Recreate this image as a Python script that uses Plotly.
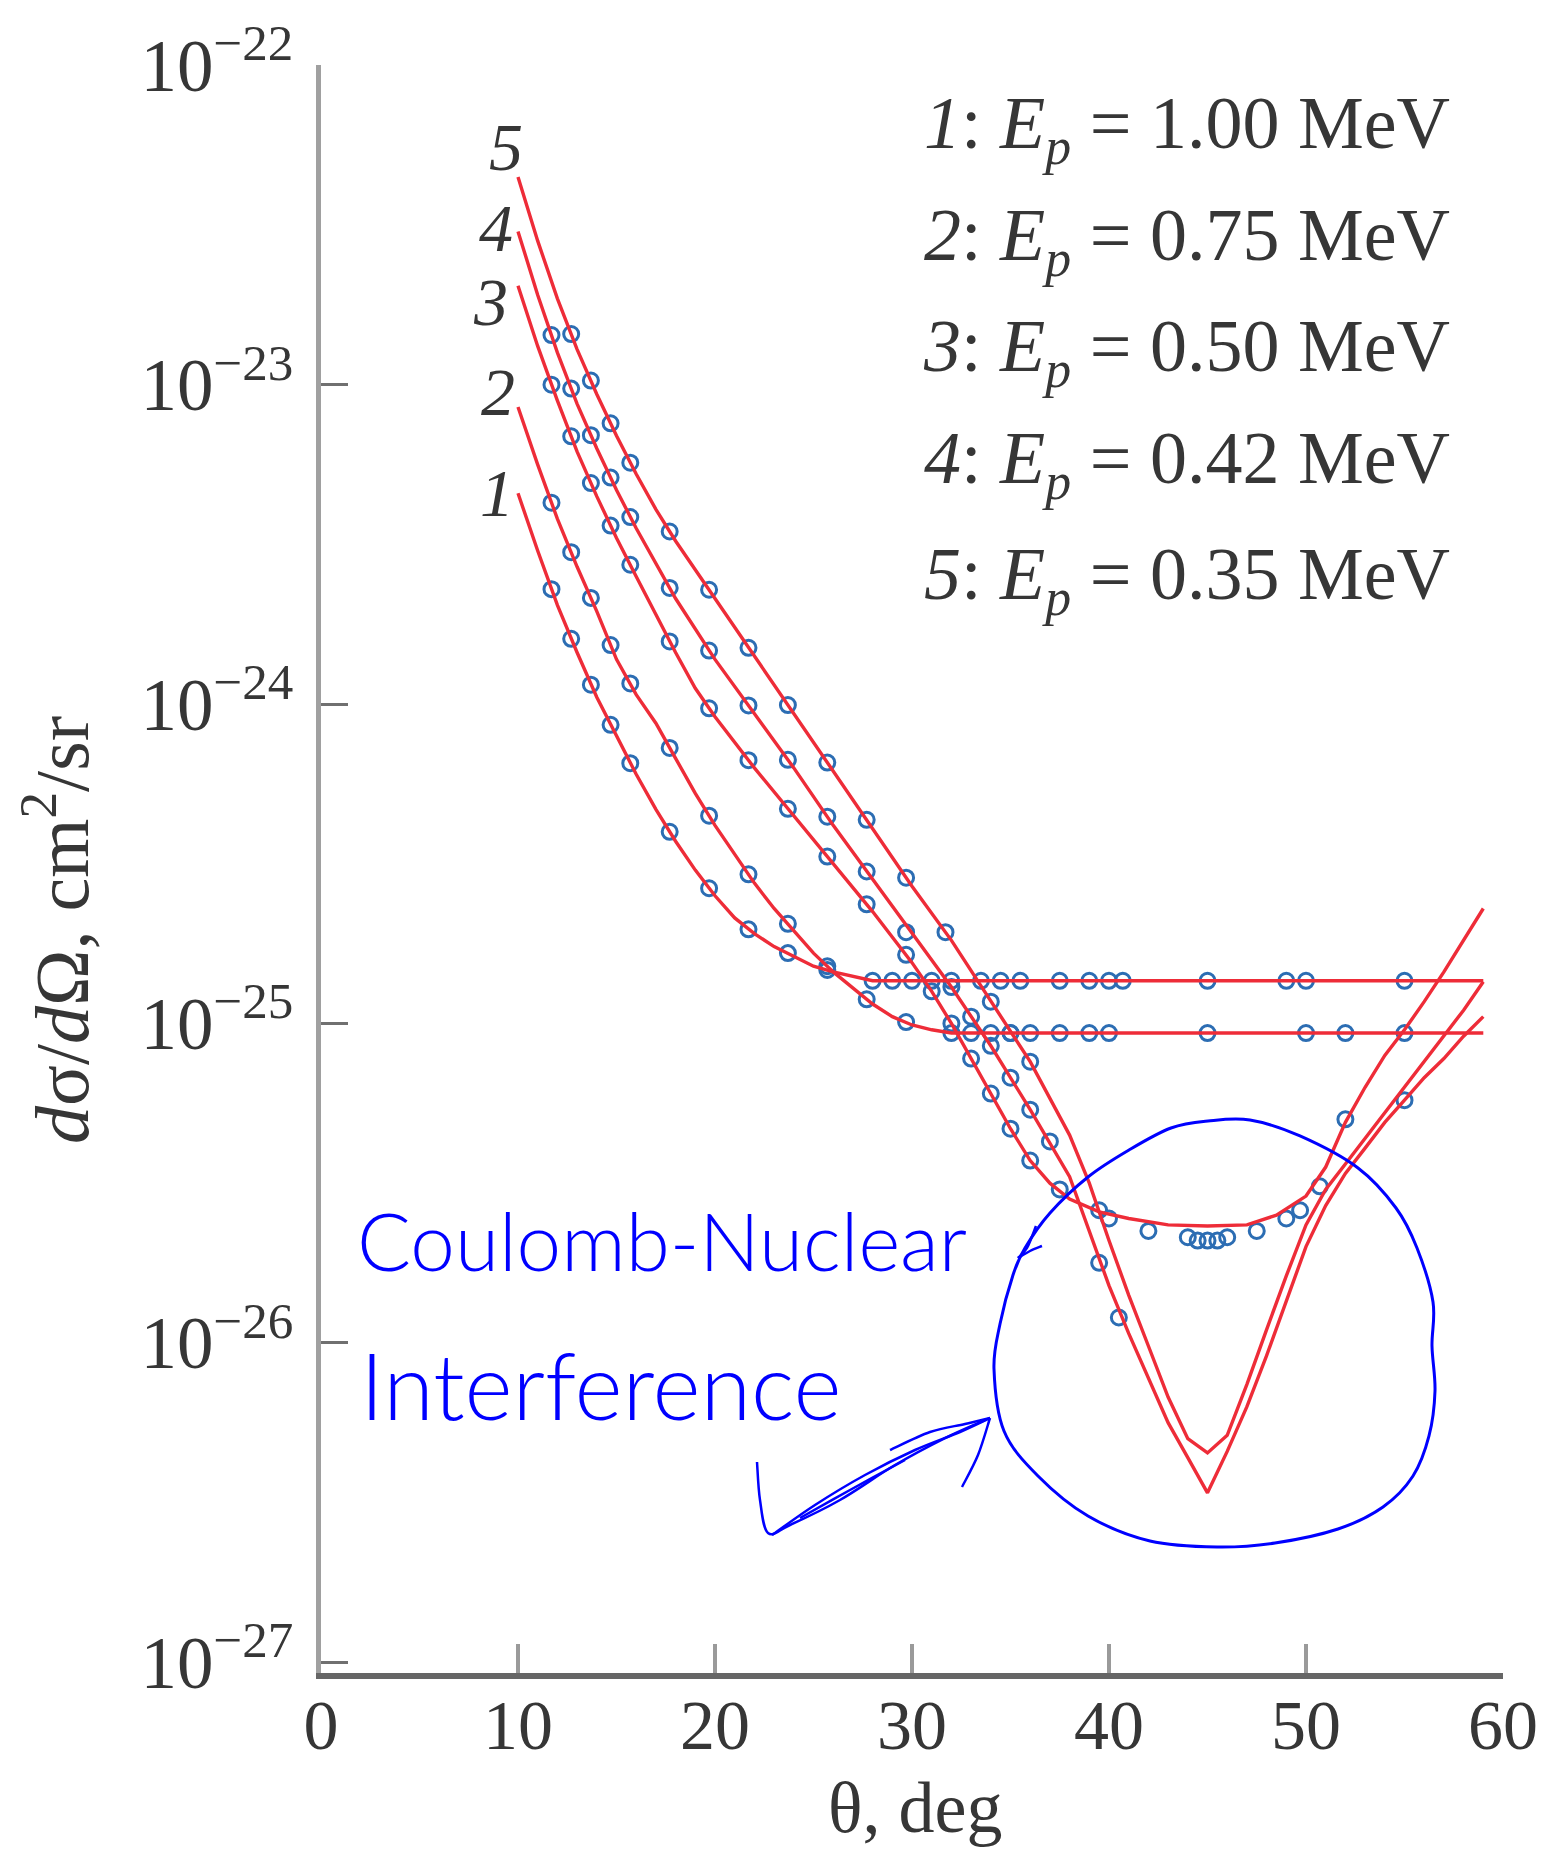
import plotly.graph_objects as go

# ---------------- data ----------------
energies = ["1.00", "0.75", "0.50", "0.42", "0.35"]
curve_ids = ["1", "2", "3", "4", "5"]
x_ticks = [0, 10, 20, 30, 40, 50, 60]
y_tick_exponents = [-22, -23, -24, -25, -26, -27]

# calculated curves (red lines): theta in deg, dsigma/dOmega in cm^2/sr
theta_fit_1 = [10, 11, 12, 13, 14, 15, 16, 17, 18, 19, 20, 21, 22, 23, 24, 25, 26, 27, 28, 59]
sigma_fit_1 = [4.57e-24, 3.02e-24, 2.04e-24, 1.45e-24, 1.05e-24, 7.94e-25, 6.03e-25, 4.68e-25,
               3.72e-25, 3.02e-25, 2.51e-25, 2.14e-25, 1.91e-25, 1.74e-25, 1.62e-25, 1.51e-25,
               1.45e-25, 1.40e-25, 1.36e-25, 1.36e-25]

theta_fit_2 = [10, 11, 12, 13, 14, 15, 16, 17, 18, 19, 20, 21, 22, 23, 24, 25, 26, 27, 28, 29,
               30, 31, 32, 59]
sigma_fit_2 = [8.51e-24, 5.62e-24, 3.80e-24, 2.69e-24, 1.95e-24, 1.38e-24, 1.07e-24, 8.71e-25,
               6.76e-25, 5.25e-25, 4.17e-25, 3.39e-25, 2.75e-25, 2.29e-25, 1.95e-25, 1.66e-25,
               1.45e-25, 1.29e-25, 1.15e-25, 1.05e-25, 9.89e-26, 9.55e-26, 9.33e-26, 9.33e-26]

theta_fit_3 = [10, 11, 12, 13, 14, 15, 16, 17, 18, 19, 20, 22, 24, 26, 28, 30, 31, 32, 33, 34,
               35, 36, 37, 38, 39.5, 41, 43, 45, 47, 48.5, 50, 51, 52, 53, 54, 55, 56, 57, 58, 59]
sigma_fit_3 = [2.04e-23, 1.32e-23, 8.91e-24, 6.17e-24, 4.47e-24, 3.31e-24, 2.51e-24, 1.91e-24,
               1.45e-24, 1.12e-24, 9.12e-25, 6.31e-25, 4.47e-25, 3.16e-25, 2.24e-25, 1.55e-25,
               1.26e-25, 1.00e-25, 7.76e-26, 6.03e-26, 4.68e-26, 3.72e-26, 3.16e-26, 2.82e-26,
               2.57e-26, 2.45e-26, 2.34e-26, 2.32e-26, 2.34e-26, 2.51e-26, 2.88e-26, 3.55e-26,
               4.90e-26, 6.31e-26, 7.94e-26, 9.55e-26, 1.17e-25, 1.45e-25, 1.82e-25, 2.29e-25]

theta_fit_4 = [10, 11, 12, 13, 14, 15, 16, 17, 18, 20, 22, 24, 26, 28, 30, 32, 34, 36, 38, 39,
               40, 41, 42, 43, 44, 45, 46, 47, 48, 49, 50, 51, 52, 53, 54, 55, 56, 57, 58, 59]
sigma_fit_4 = [3.02e-23, 1.91e-23, 1.26e-23, 8.71e-24, 6.31e-24, 4.68e-24, 3.55e-24, 2.75e-24,
               2.14e-24, 1.38e-24, 9.33e-25, 6.31e-25, 4.17e-25, 2.82e-25, 1.91e-25, 1.30e-25,
               8.51e-26, 5.37e-26, 3.31e-26, 2.24e-26, 1.51e-26, 1.07e-26, 7.76e-27, 5.62e-27,
               4.37e-27, 3.39e-27, 4.57e-27, 6.31e-27, 9.12e-27, 1.35e-26, 2.00e-26, 2.69e-26,
               3.39e-26, 4.07e-26, 4.90e-26, 5.75e-26, 6.76e-26, 7.76e-26, 9.12e-26, 1.05e-25]

theta_fit_5 = [10, 11, 12, 13, 14, 15, 16, 17, 18, 20, 22, 24, 26, 28, 30, 32, 34, 36, 38, 39,
               40, 41, 42, 43, 44, 45, 46, 47, 48, 49, 50, 51, 52, 53, 54, 55, 56, 57, 58, 59]
sigma_fit_5 = [4.47e-23, 2.82e-23, 1.86e-23, 1.29e-23, 9.33e-24, 6.92e-24, 5.25e-24, 4.07e-24,
               3.24e-24, 2.14e-24, 1.41e-24, 9.33e-25, 6.17e-25, 4.07e-25, 2.69e-25, 1.82e-25,
               1.17e-25, 7.59e-26, 4.47e-26, 3.16e-26, 2.09e-26, 1.41e-26, 9.77e-27, 6.76e-27,
               5.01e-27, 4.52e-27, 5.13e-27, 7.41e-27, 1.10e-26, 1.62e-26, 2.34e-26, 3.02e-26,
               3.63e-26, 4.37e-26, 5.25e-26, 6.31e-26, 7.59e-26, 9.12e-26, 1.10e-25, 1.35e-25]

# measured points (blue circles)
theta_exp_1 = [11.7, 12.7, 13.7, 14.7, 15.7, 17.7, 19.7, 21.7, 23.7, 25.7, 28, 29, 30, 31, 32,
               33.5, 34.5, 35.5, 37.5, 39, 40, 40.7, 45, 49, 50, 55]
sigma_exp_1 = [2.29e-24, 1.60e-24, 1.15e-24, 8.61e-25, 6.53e-25, 3.98e-25, 2.65e-25, 1.97e-25,
               1.66e-25, 1.47e-25, 1.36e-25, 1.36e-25, 1.36e-25, 1.36e-25, 1.36e-25, 1.36e-25,
               1.36e-25, 1.36e-25, 1.36e-25, 1.36e-25, 1.36e-25, 1.36e-25, 1.36e-25, 1.36e-25,
               1.36e-25, 1.36e-25]

theta_exp_2 = [11.7, 12.7, 13.7, 14.7, 15.7, 17.7, 19.7, 21.7, 23.7, 25.7, 27.7, 29.7, 32, 33,
               34, 35, 36, 37.5, 39, 40, 45, 50, 52, 55]
sigma_exp_2 = [4.27e-24, 2.99e-24, 2.15e-24, 1.53e-24, 1.16e-24, 7.29e-25, 4.47e-25, 2.93e-25,
               2.05e-25, 1.51e-25, 1.19e-25, 1.01e-25, 9.33e-26, 9.33e-26, 9.33e-26, 9.33e-26,
               9.33e-26, 9.33e-26, 9.33e-26, 9.33e-26, 9.33e-26, 9.33e-26, 9.33e-26, 9.33e-26]

theta_exp_3 = [11.7, 12.7, 13.7, 14.7, 15.7, 17.7, 19.7, 21.7, 23.7, 25.7, 27.7, 29.7, 31, 32,
               33, 34, 35, 36, 37.5, 39.5, 40, 42, 44, 44.5, 45, 45.5, 46, 47.5, 49, 49.7, 50.7, 52]
sigma_exp_3 = [1.00e-23, 6.89e-24, 4.92e-24, 3.62e-24, 2.73e-24, 1.57e-24, 9.70e-25, 6.67e-25,
               4.70e-25, 3.33e-25, 2.36e-25, 1.64e-25, 1.26e-25, 1.00e-25, 7.76e-26, 6.03e-26,
               4.68e-26, 3.72e-26, 3.02e-26, 2.60e-26, 2.45e-26, 2.24e-26, 2.14e-26, 2.09e-26,
               2.09e-26, 2.09e-26, 2.14e-26, 2.24e-26, 2.45e-26, 2.60e-26, 3.09e-26, 5.01e-26]

theta_exp_4 = [11.7, 12.7, 13.7, 14.7, 15.7, 17.7, 19.7, 21.7, 23.7, 25.7, 27.7, 29.7, 32, 33,
               34, 35, 36, 37, 39.5, 40.5, 55]
sigma_exp_4 = [1.43e-23, 9.72e-24, 6.95e-24, 5.12e-24, 3.85e-24, 2.31e-24, 1.47e-24, 9.90e-25,
               6.69e-25, 4.44e-25, 2.99e-25, 1.93e-25, 1.30e-25, 1.05e-25, 8.51e-26, 6.76e-26,
               5.37e-26, 4.27e-26, 1.78e-26, 1.20e-26, 5.75e-26]

theta_exp_5 = [12.7, 13.7, 14.7, 15.7, 17.7, 19.7, 21.7, 23.7, 25.7, 27.7, 29.7, 31.7, 34, 35, 36]
sigma_exp_5 = [1.44e-23, 1.03e-23, 7.57e-24, 5.70e-24, 3.47e-24, 2.28e-24, 1.50e-24, 9.93e-25,
               6.56e-25, 4.34e-25, 2.86e-25, 1.93e-25, 1.17e-25, 9.33e-26, 7.59e-26]

fit_sets = [(theta_fit_1, sigma_fit_1), (theta_fit_2, sigma_fit_2), (theta_fit_3, sigma_fit_3),
            (theta_fit_4, sigma_fit_4), (theta_fit_5, sigma_fit_5)]
exp_sets = [(theta_exp_1, sigma_exp_1), (theta_exp_2, sigma_exp_2), (theta_exp_3, sigma_exp_3),
            (theta_exp_4, sigma_exp_4), (theta_exp_5, sigma_exp_5)]

# ---------------- layout geometry ----------------
# page is 1545x1851; the browser puts the plot 8px in from the top-left corner
OFF = 8
PAGE_W, PAGE_H = 1545, 1851
W, H = PAGE_W - OFF, PAGE_H - OFF
PLOT_L, PLOT_R, PLOT_T, PLOT_B = 321, 1503, 65, 1673      # page pixels of the plot area
ML, MR, MT, MB = PLOT_L - OFF, W - (PLOT_R - OFF), PLOT_T - OFF, H - (PLOT_B - OFF)
PW, PH = PLOT_R - PLOT_L, PLOT_B - PLOT_T


def pxx(x):
    return (x - PLOT_L) / PW


def pxy(y):
    return (PLOT_B - y) / PH


SERIF = "Liberation Serif, Times New Roman, serif"
TXT = "#363636"
MARK = "#2c6db3"
RED = "#ee2c38"
BLUE = "#0000ff"

fig = go.Figure()
for th, sg in exp_sets:
    fig.add_trace(go.Scatter(
        x=th, y=sg, mode="markers", hoverinfo="skip",
        marker=dict(symbol="circle-open", size=15, color=MARK, line=dict(width=3, color=MARK))))
for th, sg in fit_sets:
    fig.add_trace(go.Scatter(
        x=th, y=sg, mode="lines", hoverinfo="skip",
        line=dict(color=RED, width=3.4)))

fig.update_layout(
    width=W, height=H,
    margin=dict(l=ML, r=MR, t=MT, b=MB, autoexpand=False),
    paper_bgcolor="white", plot_bgcolor="white",
    showlegend=False,
    xaxis=dict(
        range=[0, 60], tickvals=x_ticks, ticktext=[str(v) for v in x_ticks],
        ticks="inside", ticklen=29, tickwidth=4, tickcolor="#9a9a9a",
        showline=True, linecolor="#666666", linewidth=6,
        showgrid=False, zeroline=False, automargin=False,
        tickfont=dict(family=SERIF, size=70, color=TXT),
        ticklabelstandoff=-14,
    ),
    yaxis=dict(
        type="log", range=[-27.034, -21.999],
        tickvals=[10.0 ** e for e in y_tick_exponents],
        ticktext=["10<sup>\u2212%d</sup>" % (-e) for e in y_tick_exponents],
        ticks="inside", ticklen=27, tickwidth=3, tickcolor="#707070",
        showline=True, linecolor="#a0a0a0", linewidth=5,
        showgrid=False, zeroline=False, automargin=False,
        tickfont=dict(family=SERIF, size=73, color=TXT),
        ticklabelstandoff=8,
    ),
)

ann = []
# axis titles
ann.append(dict(x=pxx(915), y=pxy(1808), xref="paper", yref="paper", showarrow=False,
                xanchor="center", yanchor="middle",
                text="\u03b8, deg", font=dict(family=SERIF, size=72, color=TXT)))
ann.append(dict(x=pxx(56), y=pxy(930), xref="paper", yref="paper", showarrow=False,
                xanchor="center", yanchor="middle", textangle=-90,
                text="<i>d</i>\u03c3/<i>d</i>\u03a9, cm<sup>2</sup>/sr",
                font=dict(family=SERIF, size=76, color=TXT)))
# energy list (top right)
legend_y = [128, 240, 352, 464, 579]
for cid, e, yy in zip(curve_ids, energies, legend_y):
    ann.append(dict(x=pxx(1452), y=pxy(yy), xref="paper", yref="paper", showarrow=False,
                    xanchor="right", yanchor="middle",
                    text="<i>%s</i>: <i>E<sub>p</sub></i> = %s MeV" % (cid, e),
                    font=dict(family=SERIF, size=74, color=TXT)))
# curve numbers
label_pos = {"5": (506, 147), "4": (496, 228), "3": (490, 302), "2": (498, 392), "1": (497, 493)}
for cid in curve_ids:
    lx, ly = label_pos[cid]
    ann.append(dict(x=pxx(lx), y=pxy(ly), xref="paper", yref="paper", showarrow=False,
                    xanchor="center", yanchor="middle",
                    text="<i>%s</i>" % cid, font=dict(family=SERIF, size=68, color=TXT)))
# handwritten annotation
ann.append(dict(x=pxx(662), y=pxy(1240), xref="paper", yref="paper", showarrow=False,
                xanchor="center", yanchor="middle",
                text="Coulomb-Nuclear",
                font=dict(family="Lato", size=80, color=BLUE, weight=300)))
ann.append(dict(x=pxx(601), y=pxy(1384), xref="paper", yref="paper", showarrow=False,
                xanchor="center", yanchor="middle",
                text="Interference",
                font=dict(family="Lato", size=92, color=BLUE, weight=300)))
fig.update_layout(annotations=ann)


# hand-drawn loop and arrow (decoration, page pixel positions -> paper)
def smooth_path(pts, closed=False):
    P = [(pxx(a), pxy(b)) for a, b in pts]
    n = len(P)
    s = "M %.5f,%.5f" % P[0]
    rng = range(n) if closed else range(n - 1)
    for i in rng:
        p0 = P[(i - 1) % n] if (closed or i > 0) else P[i]
        p1 = P[i]
        p2 = P[(i + 1) % n]
        p3 = P[(i + 2) % n] if (closed or i + 2 < n) else p2
        c1 = (p1[0] + (p2[0] - p0[0]) / 6, p1[1] + (p2[1] - p0[1]) / 6)
        c2 = (p2[0] - (p3[0] - p1[0]) / 6, p2[1] - (p3[1] - p1[1]) / 6)
        s += " C %.5f,%.5f %.5f,%.5f %.5f,%.5f" % (c1[0], c1[1], c2[0], c2[1], p2[0], p2[1])
    if closed:
        s += " Z"
    return s


loop_pts = [(1208, 1121), (1250, 1120), (1300, 1136), (1358, 1168), (1396, 1208), (1417, 1248),
            (1433, 1302), (1432, 1346), (1435, 1391), (1429, 1436), (1413, 1476), (1383, 1507),
            (1338, 1529), (1275, 1543), (1217, 1547), (1150, 1541), (1088, 1516), (1038, 1476),
            (1004, 1431), (994, 1369), (1000, 1324), (1013, 1275), (1025, 1248), (1050, 1213),
            (1088, 1177), (1129, 1150), (1171, 1128)]
shapes = [dict(type="path", xref="paper", yref="paper", path=smooth_path(loop_pts, closed=True),
               line=dict(color=BLUE, width=3))]
strokes = [
    [(1036, 1226), (1027, 1248), (1018, 1258)],
    [(1018, 1258), (1030, 1251), (1042, 1246)],
    [(757, 1462), (760, 1500), (768, 1533), (790, 1525), (840, 1500), (895, 1465), (945, 1438), (985, 1420)],
    [(772, 1535), (815, 1505), (865, 1475), (915, 1450), (960, 1432), (990, 1418)],
    [(890, 1450), (930, 1432), (965, 1424), (990, 1418)],
    [(990, 1418), (978, 1455), (962, 1487)],
    [(800, 1518), (850, 1490), (905, 1460)],
]
for st in strokes:
    shapes.append(dict(type="path", xref="paper", yref="paper", path=smooth_path(st),
                       line=dict(color=BLUE, width=2.5)))
fig.update_layout(shapes=shapes)

fig.write_html("out.html")
